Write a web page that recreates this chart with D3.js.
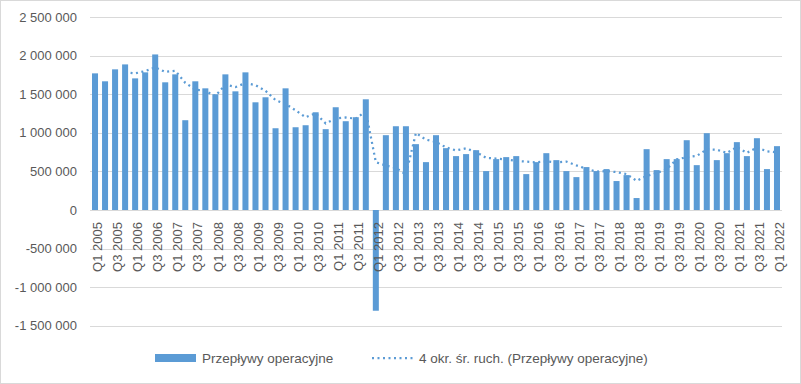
<!DOCTYPE html>
<html>
<head>
<meta charset="utf-8">
<script src="https://cdn.jsdelivr.net/npm/d3@7"></script>
<style>
  body { margin: 0; background: #fff; }
  text { font-family: "Liberation Sans", Arial, sans-serif; fill: #595959; }
</style>
</head>
<body>
<div id="chart"></div>
<script>
// quarterly categories Q1 2005 .. Q1 2022
const years = d3.range(2005, 2023);
const quarters = ["Q1", "Q2", "Q3", "Q4"];
const categories = years.flatMap((y) => quarters.map((q) => q + " " + y)).slice(0, 69);

// Przepływy operacyjne
const values = [
  1770000, 1667000, 1822000, 1886000, 1705000, 1783000, 2015000, 1654000, 1757000, 1163000,
  1667000, 1576000, 1499000, 1757000, 1537000, 1783000, 1395000, 1460000, 1059000, 1576000,
  1072000, 1098000, 1266000, 1047000, 1331000, 1150000, 1202000, 1434000, -1305000, 969000,
  1085000, 1085000, 853000, 620000, 969000, 801000, 698000, 724000, 775000, 504000,
  659000, 685000, 698000, 465000, 620000, 736000, 646000, 504000, 426000, 556000,
  504000, 530000, 375000, 452000, 155000, 788000, 517000, 659000, 659000, 904000,
  581000, 995000, 646000, 736000, 879000, 698000, 930000, 530000, 827000
];

const yTicks = [-1500000, -1000000, -500000, 0, 500000, 1000000, 1500000, 2000000, 2500000];
const seriesName = "Przepływy operacyjne";
const trendName = "4 okr. śr. ruch. (Przepływy operacyjne)";

const width = 801;
const height = 384;
const color = "#5B9BD5";

const locale = d3.formatLocale({ decimal: ",", thousands: " ", grouping: [3], currency: ["", ""], minus: "-" });
const fmt = locale.format(",");

const svg = d3.select("#chart").append("svg")
  .attr("width", width)
  .attr("height", height);

// chart border
svg.append("rect")
  .attr("x", 0.5).attr("y", 0.5)
  .attr("width", width - 1).attr("height", height - 1)
  .attr("fill", "#fff")
  .attr("stroke", "#D9D9D9");

const x = d3.scaleBand()
  .domain(categories)
  .range([90, 782])
  .paddingInner(0.4)
  .paddingOuter(0.2);

const y = d3.scaleLinear()
  .domain([-1500000, 2500000])
  .range([325.8, 17]);

// gridlines
svg.append("g")
  .selectAll("line")
  .data(yTicks)
  .join("line")
  .attr("x1", 90)
  .attr("x2", 782)
  .attr("y1", (d) => Math.round(y(d)) + 0.5)
  .attr("y2", (d) => Math.round(y(d)) + 0.5)
  .attr("stroke", "#D9D9D9")
  .attr("stroke-width", 1);

// y axis labels
const yAxis = svg.append("g")
  .attr("transform", "translate(77,0)")
  .call(d3.axisLeft(y).tickValues(yTicks).tickFormat(fmt).tickSize(0).tickPadding(0));
yAxis.select(".domain").remove();
yAxis.selectAll("text")
  .attr("font-size", 13)
  .attr("fill", "#595959")
  .attr("font-family", "Liberation Sans, Arial, sans-serif");

// bars
svg.append("g")
  .selectAll("rect")
  .data(values)
  .join("rect")
  .attr("x", (d, i) => x(categories[i]))
  .attr("width", x.bandwidth())
  .attr("y", (d) => y(Math.max(0, d)))
  .attr("height", (d) => Math.abs(y(d) - y(0)))
  .attr("fill", color);

// x axis labels (every second quarter)
const xAxis = svg.append("g")
  .attr("transform", `translate(0,${y(0)})`)
  .call(d3.axisBottom(x)
    .tickValues(categories.filter((d, i) => i % 2 === 0))
    .tickSize(0)
    .tickPadding(0));
xAxis.select(".domain").remove();
xAxis.selectAll("text")
  .attr("font-size", 13)
  .attr("fill", "#595959")
  .attr("font-family", "Liberation Sans, Arial, sans-serif")
  .attr("text-anchor", "end")
  .attr("transform", "rotate(-90)")
  .attr("x", -12)
  .attr("y", 0)
  .attr("dy", "0.55em");

// 4-period moving average
const movingAvg = values
  .map((d, i) => (i < 3 ? null : { i, v: d3.mean(values.slice(i - 3, i + 1)) }))
  .filter((d) => d);

const line = d3.line()
  .x((d) => x(categories[d.i]) + x.bandwidth() / 2)
  .y((d) => y(d.v));

svg.append("path")
  .datum(movingAvg)
  .attr("d", line)
  .attr("fill", "none")
  .attr("stroke", color)
  .attr("stroke-width", 2.25)
  .attr("stroke-dasharray", "2,3.5");

// legend
const legend = svg.append("g").attr("transform", "translate(0,358)");
legend.append("rect")
  .attr("x", 155).attr("y", -4)
  .attr("width", 41).attr("height", 8)
  .attr("fill", color);
legend.append("text")
  .attr("x", 202).attr("y", 0).attr("dy", "0.35em")
  .attr("font-size", 13.5)
  .text(seriesName);
legend.append("line")
  .attr("x1", 372).attr("x2", 415)
  .attr("y1", 0).attr("y2", 0)
  .attr("stroke", color)
  .attr("stroke-width", 2.25)
  .attr("stroke-dasharray", "2,3.5");
legend.append("text")
  .attr("x", 419).attr("y", 0).attr("dy", "0.35em")
  .attr("font-size", 13.5)
  .text(trendName);
</script>
</body>
</html>
